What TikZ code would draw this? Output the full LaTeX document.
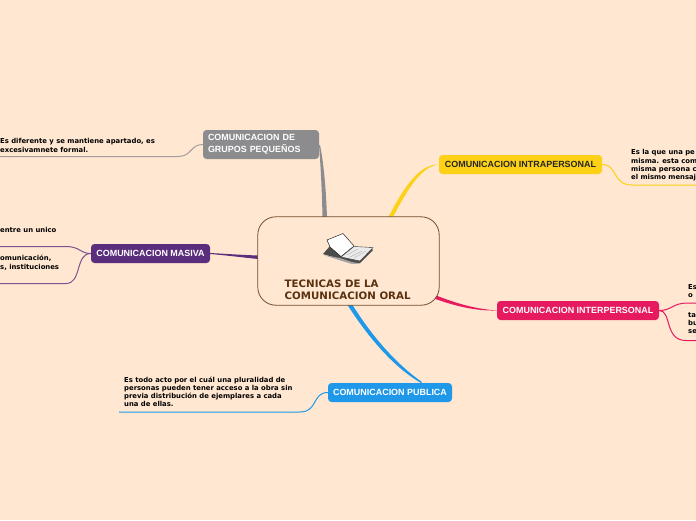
\documentclass[tikz,border=0pt]{standalone}
\usepackage{fontspec}
\usepackage{xcolor}
\setmainfont{Liberation Sans}
\newfontfamily\leaffont{DejaVu Sans}
\usetikzlibrary{positioning}
\definecolor{fondo}{HTML}{FFE7D1}
\definecolor{grupos}{HTML}{8C8C8F}
\definecolor{masiva}{HTML}{5B2E7D}
\definecolor{intra}{HTML}{FCD116}
\definecolor{inter}{HTML}{E61A5E}
\definecolor{publica}{HTML}{1F98E9}
\definecolor{cafe}{HTML}{5A3210}
\begin{document}
\begin{tikzpicture}[x=1pt,y=-1pt,
tema/.style={rounded corners=3.5pt,inner sep=0pt,font=\bfseries\fontsize{8.95}{11.5}\selectfont,minimum height=19pt,align=left},
hoja/.style={anchor=north west,inner sep=0pt,align=left,text=black,font=\leaffont\bfseries\fontsize{6.85}{8.2}\selectfont},
rama/.style={line width=1pt}]
\useasboundingbox (0,0) rectangle (696,520);
\fill[fondo] (0,0) rectangle (696,520);
%%% nodes
\node[rounded corners=18pt,minimum width=181pt,minimum height=88pt,inner sep=0pt](raiz) at (348.5,261){};
\node[tema,fill=grupos,text=white,minimum width=116pt,minimum height=29pt,text width=106pt](gpq) at (261,144.5){COMUNICACION DE\\GRUPOS PEQUEÑOS};
\node[tema,fill=masiva,text=white,minimum width=119pt,align=center](mas) at (150.5,253.5){COMUNICACION MASIVA};
\node[tema,fill=intra,text=black!85,minimum width=163pt,align=center](ipe) at (520.5,164.5){COMUNICACION INTRAPERSONAL};
\node[tema,fill=inter,text=white,minimum width=162pt,align=center](ite) at (578,310.5){COMUNICACION INTERPERSONAL};
\node[tema,fill=publica,text=white,minimum width=124pt,align=center](pub) at (390,392.5){COMUNICACION PUBLICA};
%%%
\node[hoja](h1) at (0,138.5){Es diferente y se mantiene apartado, es\\excesivamnete formal.};
\node[hoja](h2) at (0,227.5){entre un unico};
\node[hoja](h3) at (0,255){omunicación,\\[0.9pt]s, instituciones};
\node[hoja](h4) at (631,149.5){Es la que una pe\\misma. esta com\\misma persona c\\el mismo mensaj};
\node[hoja](h5) at (688,284.5){Es\\o};
\node[hoja](h6) at (688,312){ta\\bu\\se};
\node[hoja](h7) at (124,376.5){Es todo acto por el cuál una pluralidad de\\personas pueden tener acceso a la obra sin\\previa distribución de ejemplares a cada\\una de ellas.};
%%% free ends of the thin lines
\coordinate(f1) at (0,156.5);
\coordinate(f2) at (0,246.5);
\coordinate(f3) at (0,283.5);
\coordinate(f4) at (696,185);
\coordinate(f5) at (696,303);
\coordinate(f6) at (696,340.5);
\coordinate(f7) at (119,412);
%%% thin lines
\draw[rama,grupos!80!fondo](gpq.west)..controls(190,144.5)and(192,156.5)..(178,156.5)--(f1);
\draw[rama,masiva!80!fondo](mas.west)..controls(80,253.5)and(80,246.5)..(66,246.5)--(f2);
\draw[rama,masiva!80!fondo](mas.west)..controls(75,253.5)and(82,283.5)..(66,283.5)--(f3);
\draw[rama,intra](ipe.east)..controls(618,164.5)and(612,185)..(632,185)--(f4);
\draw[rama,inter](ite.east)..controls(672,310.5)and(672,303)..(688,303)--(f5);
\draw[rama,inter](ite.east)..controls(672,310.5)and(664,340.5)..(686,340.5)--(f6);
\draw[rama,publica](pub.west)..controls(312,392.5)and(318,412)..(300,412)--(f7);
%%% thick branches, narrow at the topic end
\fill[grupos](319,145)..controls(321,170)and(322,195)..(322.5,217)--(327,217)..controls(326,190)and(324,165)..(320,145)--cycle;
\fill[masiva](mas.east)++(0,-0.5)..controls(228,254)and(243,255)..(258,255.5)--(258,259)..controls(243,257.5)and(228,255.5)..(210,254)--cycle;
\fill[intra](ipe.west)..controls(420,164)and(405,185)..(388.5,217)--(393,217)..controls(408,188)and(422,166)..(ipe.west)--cycle;
\fill[inter](ite.west)..controls(475,309)and(455,303)..(435,295)--(434,298.5)..controls(455,306)and(475,311)..(ite.west)--cycle;
\fill[publica](421,383)..controls(395,368)and(370,340)..(347.5,305)--(352.5,305)..controls(372,336)and(396,364)..(422,382)--cycle;
%%% centre frame goes over the branches
\draw[draw=cafe!85!fondo,line width=0.8pt,fill=fondo,rounded corners=18pt](raiz.south west)rectangle(raiz.north east);
\node[anchor=north west,inner sep=0pt,align=left,text=cafe,font=\leaffont\bfseries\fontsize{10.25}{12}\selectfont](titulo) at (284.5,279.5){TECNICAS DE LA\\COMUNICACION ORAL};
%%% book
\fill[black!70](323,254)--(330,246)--(343,256)--(370,247)--(373,250)--(360,263)--(352,263)--(340,259)--(333,257)--cycle;
\fill[black!35](323.5,255)--(342,261)--(352,264)--(360,263.5)--(352,262)--(340,258)--cycle;
\fill[white,draw=black,line width=0.4pt](327,240)--(343,233.5)--(354,246)--(341,256.5)--(330,247)--cycle;
\fill[black!8,draw=black!80,line width=0.4pt](341,257)--(354,246.5)--(373,247.5)--(360,261)--cycle;
\draw[black!35,line width=0.3pt](347,255)--(358,249)(350,257)--(362,251)(354,258)--(366,251);
\end{tikzpicture}
\end{document}
